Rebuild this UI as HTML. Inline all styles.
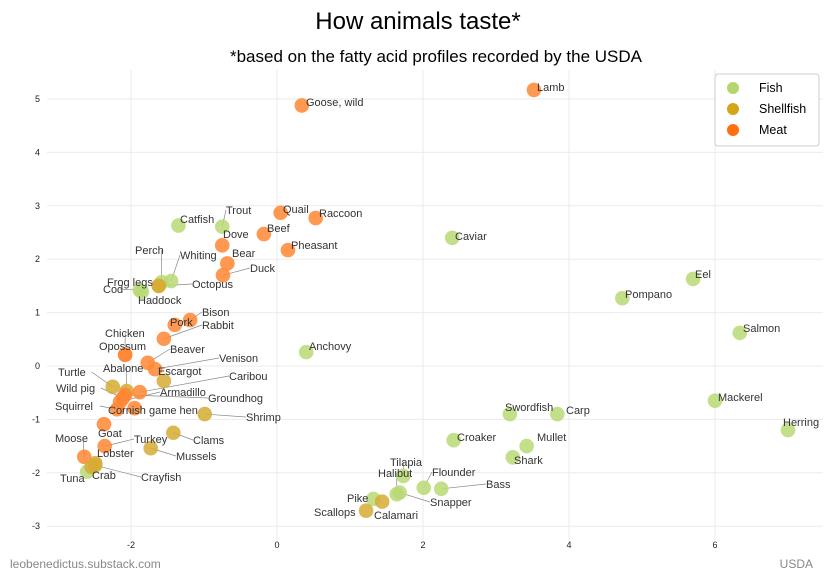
<!DOCTYPE html>
<html><head><meta charset="utf-8"><style>
body{margin:0;background:#fff;font-family:"Liberation Sans",Arial,sans-serif}
svg text{font-family:"Liberation Sans",Arial,sans-serif}
</style></head><body>
<svg id="c" width="837" height="581" viewBox="0 0 837 581">
<text x="418" y="29" text-anchor="middle" font-size="24" fill="#000">How animals taste*</text>
<text x="436" y="62" text-anchor="middle" font-size="17" fill="#000">*based on the fatty acid profiles recorded by the USDA</text>
<g id="grid"></g>
<g id="ticks"></g>
<g id="lines"></g>
<g id="pts"></g>
<g id="labs"></g>
<g>
<rect x="715" y="74" width="104" height="72" rx="3" fill="#fff" stroke="#ccc"/>
<circle cx="733" cy="88" r="6" fill="#b5d66b"/><text x="759" y="92" font-size="12.5" fill="#000">Fish</text>
<circle cx="733" cy="109" r="6" fill="#d4a518"/><text x="759" y="113" font-size="12.5" fill="#000">Shellfish</text>
<circle cx="733" cy="130" r="6" fill="#ff6f0f"/><text x="759" y="134" font-size="12.5" fill="#000">Meat</text>
</g>
<text x="10" y="568" font-size="12" fill="#888">leobenedictus.substack.com</text>
<text x="813" y="568" font-size="12" fill="#888" text-anchor="end">USDA</text>
</svg>
<script>
const xTicks=[-2,0,2,4,6];
const yTicks=[-3,-2,-1,0,1,2,3,4,5];
const names=["Goose, wild","Lamb","Quail","Raccoon","Beef","Dove","Pheasant","Bear","Duck","Bison","Pork","Rabbit","Chicken","Opossum","Beaver","Venison","Abalone","Escargot","Turtle","Caribou","Wild pig","Armadillo","Groundhog","Squirrel","Cornish game hen","Shrimp","Goat","Clams","Moose","Turkey","Lobster","Mussels","Tuna","Crab","Crayfish","Catfish","Trout","Perch","Whiting","Frog legs","Cod","Octopus","Haddock","Anchovy","Caviar","Eel","Pompano","Salmon","Mackerel","Herring","Swordfish","Carp","Croaker","Mullet","Shark","Tilapia","Halibut","Flounder","Bass","Snapper","Pike","Calamari","Scallops"];
const groups=["M","M","M","M","M","M","M","M","M","M","M","M","M","M","M","M","S","S","S","M","M","M","M","M","M","S","M","S","M","M","S","S","F","S","S","F","F","F","F","S","F","S","F","F","F","F","F","F","F","F","F","F","F","F","F","F","F","F","F","F","F","S","S"];
const xs=[0.34,3.52,0.05,0.53,-0.18,-0.75,0.15,-0.68,-0.74,-1.19,-1.40,-1.55,-2.08,-2.08,-1.77,-1.67,-2.06,-1.55,-2.25,-1.88,-2.11,-2.15,-2.08,-2.19,-1.95,-0.99,-2.37,-1.42,-2.64,-2.36,-2.49,-1.73,-2.60,-2.54,-2.49,-1.35,-0.75,-1.58,-1.45,-1.62,-1.88,-1.62,-1.85,0.40,2.40,5.70,4.73,6.34,6.00,7.00,3.19,3.84,2.42,3.42,3.23,1.73,1.64,2.01,2.25,1.68,1.32,1.44,1.22];
const ys=[4.88,5.17,2.87,2.77,2.47,2.26,2.17,1.92,1.70,0.86,0.77,0.51,0.21,0.21,0.06,-0.06,-0.47,-0.28,-0.39,-0.49,-0.60,-0.67,-0.54,-0.81,-0.79,-0.90,-1.09,-1.25,-1.70,-1.50,-1.82,-1.54,-1.98,-1.89,-1.86,2.63,2.61,1.57,1.59,1.50,1.42,1.50,1.39,0.26,2.40,1.63,1.27,0.62,-0.65,-1.20,-0.90,-0.90,-1.39,-1.50,-1.71,-2.06,-2.40,-2.28,-2.30,-2.37,-2.49,-2.54,-2.71];
// label layout (pixel positions of annotation text)
const labelPos=[[306,106],[537,91],[283,213],[319,217],[267,232],[223,238],[291,249],[232,257],[250,272],[202,316],[170,326],[202,329],[105,337],[99,350],[170,353],[219,362],[103,372],[158,375],[58,376],[229,380],[56,392],[160,396],[208,402],[55,410],[108,414],[246,421],[98,437],[193,444],[55,442],[134,443],[97,457],[176,460],[60,482],[92,479],[141,481],[180,223],[226,214],[135,254],[180,259],[107,286],[103,293],[192,288],[138,304],[309,350],[455,240],[695,278],[625,298],[743,332],[718,401],[783,426],[505,411],[566,414],[457,441],[537,441],[514,464],[390,466],[378,477],[432,476],[486,488],[430,506],[347,502],[374,519],[314,516]];
const L=47,R=823,T=70,B=540;
const X=v=>277+v*73, Y=v=>366-v*53.4;
const colors={F:"#b9d976",S:"#d6ab35",M:"#ff8633"};
const ns="http://www.w3.org/2000/svg";
function mk(tag,attrs,parent){const e=document.createElementNS(ns,tag);for(const k in attrs)e.setAttribute(k,attrs[k]);document.getElementById(parent).appendChild(e);return e;}
xTicks.forEach(t=>{
 const g=mk("line",{x1:X(t),x2:X(t),y1:T,y2:B,stroke:"#ebebeb"},"grid");
 
 
 const tx=mk("text",{x:X(t),y:548,"font-size":9,"text-anchor":"middle",fill:"#222"},"ticks");
 tx.textContent=t;
 
 
});
yTicks.forEach(t=>{
 const g=mk("line",{x1:L,x2:R,y1:Y(t),y2:Y(t),stroke:"#ebebeb"},"grid");
 
 
 const tx=mk("text",{x:40,y:Y(t)+3,"font-size":9,"text-anchor":"end",fill:"#222"},"ticks");
 tx.textContent=t;
 
 
});
names.forEach((n,i)=>{
 const px=X(xs[i]),py=Y(ys[i]);
 const lp=labelPos[i];
 const w=n.length*5.6;
 const lx=Math.max(lp[0],Math.min(lp[0]+w,px)), ly=lp[1]-4;
 if(Math.hypot(lx-px,ly-py)>14){
  const ln=mk("line",{x1:px,y1:py,x2:lx,y2:ly,stroke:"#888","stroke-width":0.7},"lines");
  
  
 }
 const c=mk("circle",{cx:px,cy:py,r:7.3,fill:colors[groups[i]],"fill-opacity":0.85},"pts");
 
 
 const t=mk("text",{x:lp[0],y:lp[1],"font-size":11,fill:"#333"},"labs");
 t.textContent=n;
 
 
});
</script>
</body></html>
